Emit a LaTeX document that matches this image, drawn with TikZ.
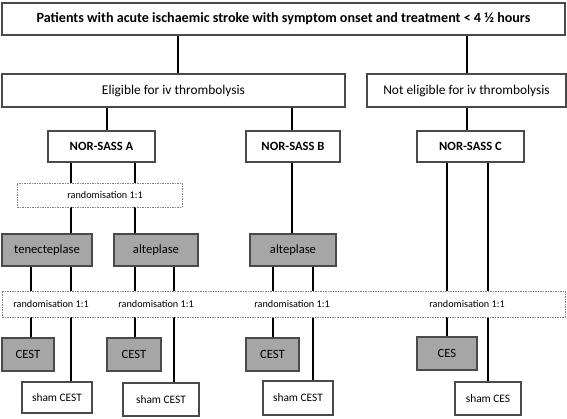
\documentclass[tikz,border=0pt]{standalone}
\usepackage{fontspec}
\setmainfont{Carlito}
\usepackage{tikz}
\usetikzlibrary{positioning,backgrounds}
\definecolor{boxline}{HTML}{4A4A4A}
\definecolor{boxgrey}{HTML}{A6A6A6}
\tikzset{WhiteBox/.style={%
    shape=rectangle,%
    draw=boxline,%
    fill=white,%
    line width=1.3pt,%
    inner sep=0pt,%
    font=\fontsize{11.4}{13}\selectfont,%
}}
\tikzset{GreyBox/.style={%
    WhiteBox,%
    fill=boxgrey,%
    font=\fontsize{12.6}{14}\selectfont,%
}}
\tikzset{StudyBox/.style={%
    WhiteBox,%
    minimum height=31pt,%
    font=\bfseries\fontsize{12.6}{14}\selectfont,%
}}
\tikzset{GroupBox/.style={%
    WhiteBox,%
    minimum height=33pt,%
    font=\fontsize{13.4}{15}\selectfont,%
}}
\tikzset{RandBox/.style={%
    shape=rectangle,%
    draw=gray,%
    fill=white,%
    line width=0.8pt,%
    dash pattern=on 1.5pt off 1pt,%
    inner sep=0pt,%
}}
\tikzset{RandLabel/.style={%
    inner sep=0pt,%
    font=\fontsize{10.2}{12}\selectfont,%
}}
\tikzset{LinkEdge/.style={%
    line width=1.3pt,%
    draw=black,%
}}

\begin{document}
\begin{tikzpicture}[x=1pt,y=-1pt]
    \useasboundingbox (0,0) rectangle (567,418);

    \node[WhiteBox, minimum width=563pt, minimum height=32pt, font=\bfseries\fontsize{14.1}{16}\selectfont] (top) at (283.5,19) {Patients with acute ischaemic stroke with symptom onset and treatment < 4 ½ hours};
    \node[GroupBox, minimum width=343pt] (elig) at (173.5,90.5) {Eligible for iv thrombolysis};
    \node[GroupBox, minimum width=199pt] (noElig) at (466.5,90.5) {Not eligible for iv thrombolysis};

    \node[StudyBox, minimum width=107pt] (nsA) at (101.5,146.5) {NOR-SASS A};
    \node[StudyBox, minimum width=94pt] (nsB) at (293,146.5) {NOR-SASS B};
    \node[StudyBox, minimum width=107pt] (nsC) at (470.5,146.5) {NOR-SASS C};

    \node[RandBox, minimum width=165pt, minimum height=24pt] (randA) at (99.5,195) {};
    \node[RandLabel] (randAlbl) at (105,195) {randomisation 1:1};

    \node[GreyBox, minimum width=90pt, minimum height=32pt] (ten) at (47,250) {tenecteplase};
    \node[GreyBox, minimum width=84pt, minimum height=32pt] (alt) at (156,250) {alteplase};
    \node[GreyBox, minimum width=86pt, minimum height=32pt] (altB) at (293,250) {alteplase};

    \node[RandBox, minimum width=563pt, minimum height=26pt] (randAll) at (283.5,304) {};
    \node[RandLabel] (rlbl1) at (51,304) {randomisation 1:1};
    \node[RandLabel] (rlbl2) at (156,304) {randomisation 1:1};
    \node[RandLabel] (rlbl3) at (292,304) {randomisation 1:1};
    \node[RandLabel] (rlbl4) at (467,304) {randomisation 1:1};

    \node[GreyBox, minimum width=52pt, minimum height=33pt] (cest1) at (28,354.5) {CEST};
    \node[GreyBox, minimum width=54pt, minimum height=33pt] (cest2) at (134,354.5) {CEST};
    \node[GreyBox, minimum width=53pt, minimum height=33pt] (cest3) at (272.5,354.5) {CEST};
    \node[GreyBox, minimum width=60pt, minimum height=33pt] (ces) at (447,353.5) {CES};

    \node[WhiteBox, minimum width=70pt, minimum height=31pt] (sham1) at (57,397.5) {sham CEST};
    \node[WhiteBox, minimum width=76pt, minimum height=33pt] (sham2) at (161,399.5) {sham CEST};
    \node[WhiteBox, minimum width=70pt, minimum height=34pt] (sham3) at (298,398) {sham CEST};
    \node[WhiteBox, minimum width=66pt, minimum height=33pt] (shamC) at (488,398.5) {sham CES};

    % x positions of the vertical links
    \foreach \x in {178,467,107,292,71,135,31,174,273,313,447,488}
        \coordinate (c\x) at (\x,0);

    \begin{scope}[on background layer]
        \path (top.south -| c178) edge[LinkEdge] (elig.north -| c178);
        \path (top.south -| c467) edge[LinkEdge] (noElig.north -| c467);
        \path (elig.south -| c107) edge[LinkEdge] (nsA.north -| c107);
        \path (elig.south -| c292) edge[LinkEdge] (nsB.north -| c292);
        \path (noElig.south -| c467) edge[LinkEdge] (nsC.north -| c467);
        \path (nsA.south -| c71) edge[LinkEdge] (ten.north -| c71);
        \path (nsA.south -| c135) edge[LinkEdge] (alt.north -| c135);
        \path (nsB.south -| c292) edge[LinkEdge] (altB.north -| c292);
        \path (nsC.south -| c447) edge[LinkEdge] (ces.north -| c447);
        \path (nsC.south -| c488) edge[LinkEdge] (shamC.north -| c488);
        \path (ten.south -| c31) edge[LinkEdge] (cest1.north -| c31);
        \path (ten.south -| c71) edge[LinkEdge] (sham1.north -| c71);
        \path (alt.south -| c135) edge[LinkEdge] (cest2.north -| c135);
        \path (alt.south -| c174) edge[LinkEdge] (sham2.north -| c174);
        \path (altB.south -| c273) edge[LinkEdge] (cest3.north -| c273);
        \path (altB.south -| c313) edge[LinkEdge] (sham3.north -| c313);
    \end{scope}
\end{tikzpicture}
\end{document}
